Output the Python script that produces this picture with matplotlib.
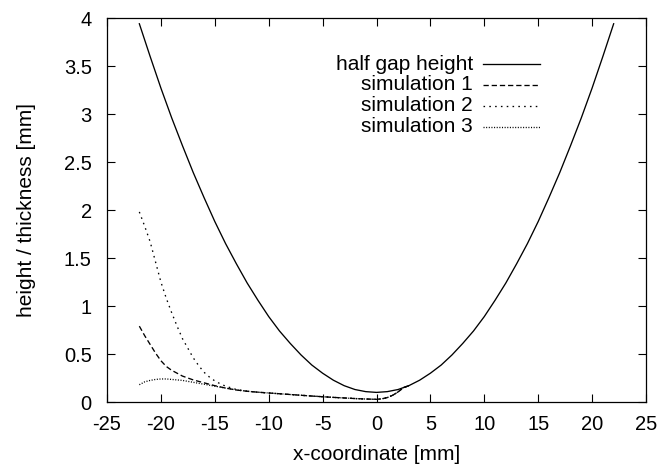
import matplotlib
matplotlib.use("Agg")
import matplotlib.pyplot as plt
import numpy as np

plt.rcParams['font.family'] = ['Liberation Sans', 'DejaVu Sans']
plt.rcParams['axes.unicode_minus'] = False

# half gap height (symmetric about x = 0)
gap_x = [-22, -21, -20, -19, -18, -17, -16, -15, -14, -13, -12, -11, -10, -9,
         -8, -7, -6, -5, -4, -3, -2, -1, 0, 1, 2, 3, 4, 5, 6, 7, 8, 9, 10,
         11, 12, 13, 14, 15, 16, 17, 18, 19, 20, 21, 22]
gap_y = [3.94, 3.60, 3.27, 2.96, 2.67, 2.39, 2.13, 1.88, 1.65, 1.44, 1.24,
         1.06, 0.89, 0.74, 0.61, 0.49, 0.385, 0.30, 0.227, 0.17, 0.13, 0.108,
         0.10, 0.108, 0.13, 0.17, 0.227, 0.30, 0.385, 0.49, 0.61, 0.74, 0.89,
         1.06, 1.24, 1.44, 1.65, 1.88, 2.13, 2.39, 2.67, 2.96, 3.27, 3.60, 3.94]

# common tail of the simulations (they merge after x ~ -13)
tail_x = [-12, -11, -10, -9, -8, -7, -6, -5, -4, -3, -2, -1, 0, 0.5, 1.0,
          1.5, 2.0, 2.5, 3.0]
tail_y = [0.112, 0.102, 0.094, 0.086, 0.078, 0.070, 0.062, 0.055, 0.048,
          0.042, 0.036, 0.031, 0.028, 0.033, 0.046, 0.07, 0.105, 0.15, 0.17]

sim1_x = [-22, -21.5, -21, -20.5, -20, -19.5, -19, -18.5, -18, -17, -16, -15,
          -14, -13] + tail_x
sim1_y = [0.79, 0.69, 0.60, 0.51, 0.43, 0.37, 0.33, 0.30, 0.27, 0.23, 0.20,
          0.17, 0.145, 0.125] + tail_y

sim2_x = [-22, -21.5, -21, -20.5, -20, -19.5, -19, -18.5, -18, -17.5, -17,
          -16.5, -16, -15.5, -15, -14.5, -14, -13] + tail_x
sim2_y = [1.98, 1.83, 1.67, 1.46, 1.25, 1.08, 0.93, 0.79, 0.66, 0.56, 0.46,
          0.38, 0.31, 0.26, 0.22, 0.19, 0.165, 0.13] + tail_y

sim3_x = [-22, -21.5, -21, -20.5, -20, -19.5, -19, -18.5, -18, -17, -16, -15,
          -14, -13] + tail_x
sim3_y = [0.18, 0.21, 0.225, 0.235, 0.24, 0.24, 0.235, 0.23, 0.225, 0.205,
          0.185, 0.165, 0.145, 0.125] + tail_y

labels = ['half gap height', 'simulation 1', 'simulation 2', 'simulation 3']
styles = [dict(ls='-'), dict(dashes=(4, 2.2)), dict(dashes=(1.2, 3.2)),
          dict(dashes=(0.8, 1.2))]

fig = plt.figure(figsize=(6.62, 4.70), dpi=100)
ax = fig.add_axes([107 / 662, 68 / 470, 539 / 662, 384 / 470])

lw = 0.95
series = [(gap_x, gap_y), (sim1_x, sim1_y), (sim2_x, sim2_y), (sim3_x, sim3_y)]
for (xs, ys), st in zip(series, styles):
    ax.plot(xs, ys, color='black', lw=lw, **st)

ax.set_xlim(-25, 25)
ax.set_ylim(0, 4)
ax.set_xticks(np.arange(-25, 26, 5))
ax.set_yticks(np.arange(0, 4.01, 0.5))
ax.set_yticklabels(['0', '0.5', '1', '1.5', '2', '2.5', '3', '3.5', '4'])
ax.tick_params(direction='in', length=6, width=0.8, top=True, right=True,
               labelsize=14.5)
ax.tick_params(axis='y', pad=11)
ax.tick_params(axis='x', pad=9)
for s in ax.spines.values():
    s.set_linewidth(0.9)

ax.set_xlabel('x-coordinate [mm]', fontsize=15, labelpad=8)
ax.set_ylabel('height / thickness [mm]', fontsize=15, labelpad=20)

# gnuplot-style key: labels right aligned, line samples on the right
key_y = [0.879, 0.826, 0.772, 0.717]
for lab, st, ky in zip(labels, styles, key_y):
    ax.text(0.679, ky, lab, transform=ax.transAxes, ha='right', va='center',
            fontsize=15)
    ax.plot([0.698, 0.803], [ky, ky], transform=ax.transAxes, color='black',
            lw=lw, **st)

fig.savefig('out.png', dpi=100)
